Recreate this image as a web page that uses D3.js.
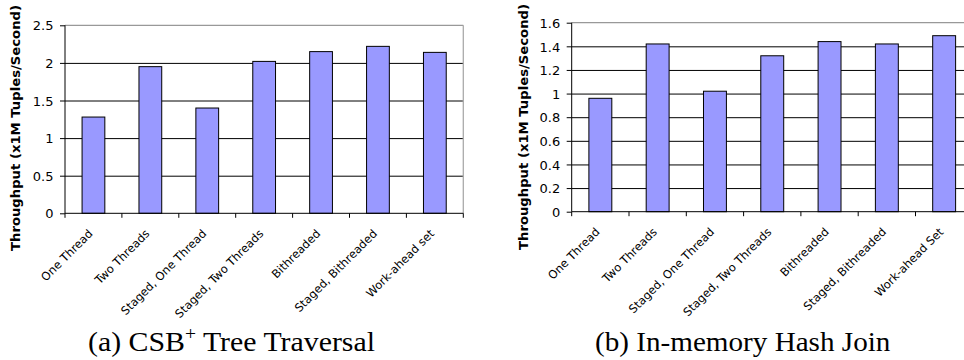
<!DOCTYPE html>
<html>
<head>
<meta charset="utf-8">
<script src="https://cdn.jsdelivr.net/npm/d3@7"></script>
<style>
  html, body { margin: 0; padding: 0; background: #fff; }
  svg { display: block; }
</style>
</head>
<body>
<svg id="chart" width="964" height="360"></svg>
<script>
// ---- Data ----
const categoriesA = ["One Thread", "Two Threads", "Staged, One Thread", "Staged, Two Threads", "Bithreaded", "Staged, Bithreaded", "Work-ahead set"];
const valuesA = [1.28, 1.95, 1.40, 2.02, 2.15, 2.22, 2.14];
const ticksA = [0, 0.5, 1, 1.5, 2, 2.5];
const tickLabelsA = ["0", "0.5", "1", "1.5", "2", "2.5"];

const categoriesB = ["One Thread", "Two Threads", "Staged, One Thread", "Staged, Two Threads", "Bithreaded", "Staged, Bithreaded", "Work-ahead Set"];
const valuesB = [0.96, 1.42, 1.02, 1.32, 1.44, 1.42, 1.49];
const ticksB = [0, 0.2, 0.4, 0.6, 0.8, 1, 1.2, 1.4, 1.6];
const tickLabelsB = ["0", "0.2", "0.4", "0.6", "0.8", "1", "1.2", "1.4", "1.6"];

const yTitle = "Throughput (x1M Tuples/Second)";
const captionA = ["(a) CSB", "+", " Tree Traversal"];
const captionB = ["(b) In-memory Hash Join"];

const svg = d3.select("#chart");
const SANS = "'DejaVu Sans', sans-serif";

function drawPanel(cfg) {
  const { cats, vals, ticks, tickLabels, left, right, top, bottom, titleX, titleBottom, caption, captionX, captionScale } = cfg;
  const g = svg.append("g");
  const x = d3.scaleBand().domain(cats).range([left, right]).paddingInner(0.6).paddingOuter(0.3);
  const y = d3.scaleLinear().domain([0, ticks[ticks.length - 1]]).range([bottom, top]);
  const step = x.step();

  // gridlines
  const grid = g.append("g").attr("transform", `translate(${left},0)`)
    .call(d3.axisLeft(y).tickValues(ticks.slice(1, -1)).tickSize(-(right - left)).tickFormat(""));
  grid.select(".domain").remove();
  grid.selectAll("line").attr("stroke", "#000").attr("stroke-width", 1);

  // plot border top & right (gray)
  g.append("line").attr("x1", left).attr("x2", right).attr("y1", y(ticks[ticks.length - 1])).attr("y2", y(ticks[ticks.length - 1]))
    .attr("stroke", "#999").attr("stroke-width", 1.3);
  g.append("line").attr("x1", right).attr("x2", right).attr("y1", top).attr("y2", bottom)
    .attr("stroke", "#aaa").attr("stroke-width", 1.3);

  // bars
  g.append("g").selectAll("rect").data(vals).join("rect")
    .attr("x", (d, i) => x(cats[i]))
    .attr("y", d => y(d))
    .attr("width", x.bandwidth())
    .attr("height", d => y(0) - y(d))
    .attr("fill", "#9999ff")
    .attr("stroke", "#000")
    .attr("stroke-width", 1);

  // y axis
  const ya = g.append("g").attr("transform", `translate(${left},0)`)
    .call(d3.axisLeft(y).tickValues(ticks).tickSize(5).tickPadding(6.5).tickFormat((d, i) => tickLabels[i]));
  ya.select(".domain").attr("stroke", "#000").attr("d", `M0,${bottom}V${top}`);
  ya.selectAll(".tick line").attr("stroke", "#000");
  ya.selectAll(".tick text").attr("font-family", SANS).attr("font-size", 13).attr("fill", "#000").attr("dy", "0.36em");

  // x axis line
  g.append("line").attr("x1", left).attr("x2", right).attr("y1", bottom).attr("y2", bottom).attr("stroke", "#000").attr("stroke-width", 1);
  // boundary ticks
  const bounds = d3.range(cats.length + 1).map(i => left + i * step);
  g.append("g").selectAll("line").data(bounds).join("line")
    .attr("x1", d => d).attr("x2", d => d).attr("y1", bottom).attr("y2", bottom + 4.5)
    .attr("stroke", "#000").attr("stroke-width", 1);

  // category labels (rotated)
  g.append("g").selectAll("text").data(cats).join("text")
    .attr("transform", d => `translate(${x(d) + x.bandwidth() / 2},${bottom + 21}) rotate(-45)`)
    .attr("font-family", SANS).attr("font-size", 11.5).attr("fill", "#000")
    .attr("text-anchor", "end")
    .text(d => d);

  // y title
  svg.append("text")
    .attr("transform", `translate(${titleX},${titleBottom}) rotate(-90)`)
    .attr("font-family", SANS).attr("font-weight", "bold").attr("font-size", 12)
    .attr("textLength", 246).attr("lengthAdjust", "spacingAndGlyphs")
    .attr("fill", "#000")
    .text(yTitle);

  // caption
  const cap = svg.append("text").attr("transform", `translate(${captionX},351) scale(${captionScale},1)`)
    .attr("font-family", "'Liberation Serif', 'Times New Roman', serif").attr("font-size", 27.5).attr("fill", "#000");
  caption.forEach((part, i) => {
    if (part === "+") {
      cap.append("tspan").attr("font-size", 18).attr("dy", -11).text(part);
    } else if (i > 0 && caption[i - 1] === "+") {
      cap.append("tspan").attr("dy", 11).text(part);
    } else {
      cap.append("tspan").text(part);
    }
  });
}

drawPanel({ cats: categoriesA, vals: valuesA, ticks: ticksA, tickLabels: tickLabelsA,
  left: 65, right: 463.3, top: 25.3, bottom: 213.3, titleX: 20, titleBottom: 251, caption: captionA, captionX: 88, captionScale: 1.085 });
drawPanel({ cats: categoriesB, vals: valuesB, ticks: ticksB, tickLabels: tickLabelsB,
  left: 571.7, right: 972.8, top: 22.7, bottom: 211.7, titleX: 527.5, titleBottom: 250, caption: captionB, captionX: 595, captionScale: 1.06 });
</script>
</body>
</html>
